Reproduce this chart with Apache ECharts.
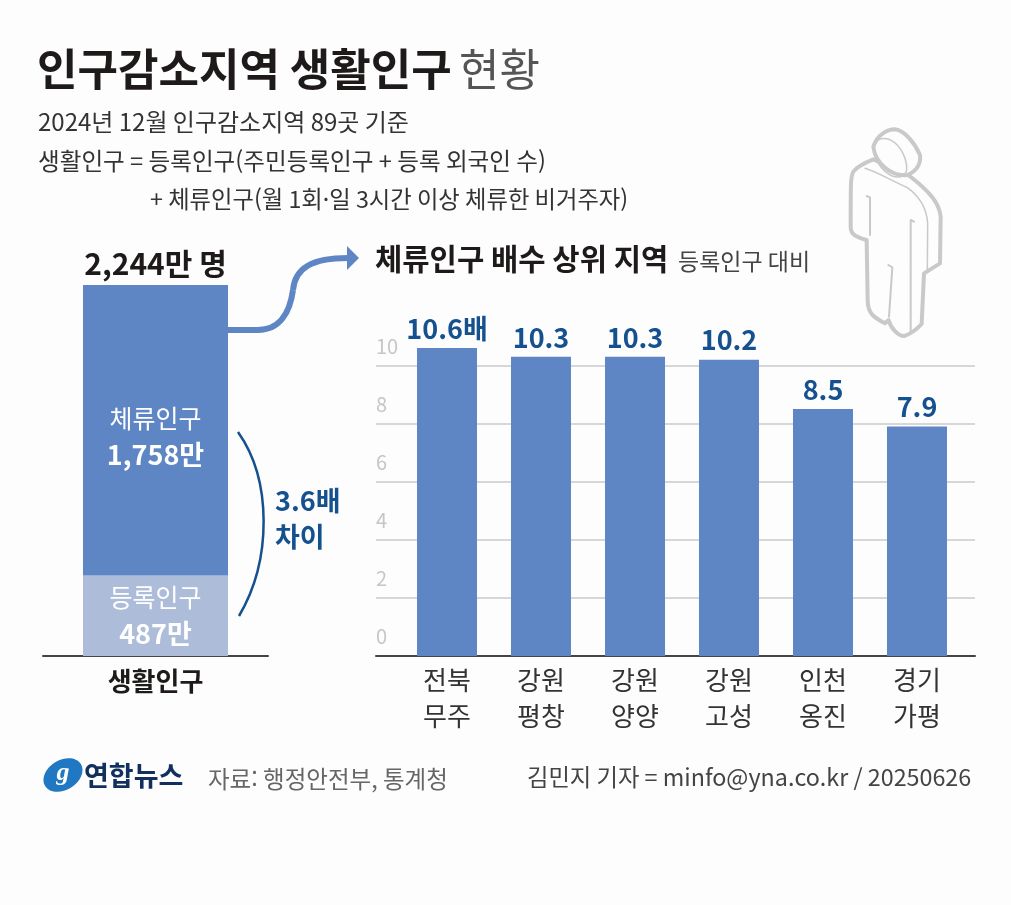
<!DOCTYPE html>
<html lang="ko"><head><meta charset="utf-8">
<script src="https://cdn.jsdelivr.net/npm/echarts@6/dist/echarts.min.js"></script>
<style>html,body{margin:0;padding:0;background:#fdfdfd}#c{width:1011px;height:905px}</style></head>
<body><div id="c"></div>
<script>
const FONT = '"Noto Sans CJK KR","Noto Sans",sans-serif';
const BLUE = '#5f86c4', LIGHT = '#adbcd8', NAVY = '#15508f', INK = '#1e1a19';

const totalCategory = ['생활인구'];
const stayValue = [1758];
const registeredValue = [487];
const totalValue = [2244];
const regions = ['전북\n무주', '강원\n평창', '강원\n양양', '강원\n고성', '인천\n옹진', '경기\n가평'];
const ratios = [10.6, 10.3, 10.3, 10.2, 8.5, 7.9];
const ratioTicks = [0, 10, 2];

const txt = (x, y, text, fontSize, fill, fontWeight, align) => ({
  type: 'text', x, y, z: 10,
  style: { text, fontSize, fill, fontWeight: fontWeight || 'normal', fontFamily: FONT,
           textAlign: align || 'left', textVerticalAlign: 'middle' }
});
const BOX = 'M0 0L0 0M450 690L450 690';
const personParts = [
  ['M160 118C135 128 112 138 100 155C92 170 92 180 92 320C92 345 110 352 140 360L143 545C145 580 160 592 195 610L206 600C212 625 235 648 252 648C272 642 290 628 305 612L312 460L360 430L362 290C358 250 330 215 265 165L160 118Z', 4, '#fdfdfd'],
  ['M160 80C172 45 200 28 225 28C255 32 285 70 300 105C304 135 285 155 262 165C215 170 165 130 160 80Z', 4, '#fdfdfd'],
  ['M162 75C170 55 195 50 215 62C245 80 262 120 260 150C255 175 225 178 200 158C175 138 158 105 162 75Z', 1.5, 'none'],
  ['M135 145C170 155 210 180 262 203C300 230 320 265 323 310L322 450', 1.5, 'none'],
  ['M140 228L150 232L150 345M272 300L282 305M272 300L272 635M205 435L217 442L207 590', 2, 'none']
];

const graphics = [
  txt(37, 69, '인구감소지역 생활인구', 44, INK, 'bold'),
  txt(459, 69, '현황', 44, '#555'),
  txt(38, 122, '2024년 12월 인구감소지역 89곳 기준', 24, '#333'),
  txt(38, 161, '생활인구 = 등록인구(주민등록인구 + 등록 외국인 수)', 23.6, '#333'),
  txt(150, 199, '+ 체류인구(월 1회·일 3시간 이상 체류한 비거주자)', 23.3, '#333'),
  txt(375, 259, '체류인구 배수 상위 지역', 29.7, INK, 'bold'),
  txt(678, 261, '등록인구 대비', 23, '#444'),
  txt(275, 501, '3.6배', 27, NAVY, 'bold'),
  txt(275, 537, '차이', 27, NAVY, 'bold'),
  txt(84, 776, '연합뉴스', 27, '#12305e', 'bold'),
  txt(208, 779, '자료: 행정안전부, 통계청', 23.5, '#666'),
  txt(527, 777, '김민지 기자 = minfo@yna.co.kr / 20250626', 23.3, '#444'),
  { type: 'line', z: 3, shape: { x1: 227, y1: 330, x2: 259, y2: 330 }, style: { stroke: BLUE, lineWidth: 6 } },
  { type: 'bezierCurve', z: 3, shape: { x1: 258, y1: 330, cpx1: 280, cpy1: 330, cpx2: 290, cpy2: 312, x2: 293, y2: 290 },
    style: { fill: 'none', stroke: BLUE, lineWidth: 6 } },
  { type: 'bezierCurve', z: 3, shape: { x1: 293, y1: 290, cpx1: 295, cpy1: 268, cpx2: 312, cpy2: 258, x2: 348, y2: 258 },
    style: { fill: 'none', stroke: BLUE, lineWidth: 6 } },
  { type: 'polygon', z: 3, shape: { points: [[347, 246], [359, 258], [347, 270]] }, style: { fill: BLUE } },
  { type: 'bezierCurve', z: 3, shape: { x1: 238, y1: 432, cpx1: 272, cpy1: 480, cpx2: 272, cpy2: 560, x2: 239, y2: 616 },
    style: { fill: 'none', stroke: NAVY, lineWidth: 2.5 } },
  { type: 'ellipse', z: 5, rotation: 0.55, x: 63, y: 775, shape: { cx: 0, cy: 0, rx: 21, ry: 15 }, style: { fill: '#1f78c1' } },
  { type: 'text', z: 6, x: 63, y: 773, style: { text: 'g', fontSize: 26, fontStyle: 'italic', fontWeight: 'bold', fill: '#fff', fontFamily: 'Liberation Serif', textAlign: 'center', textVerticalAlign: 'middle' } }
];

const option = {
  animation: false,
  backgroundColor: '#fdfdfd',
  textStyle: { fontFamily: FONT },
  graphic: graphics,
  grid: [
    { left: 43, width: 225, top: 285, height: 371 },
    { left: 376, width: 599, top: 365.5, height: 290.5, z: 0 },
    { left: 400, width: 564, top: 307.4, height: 348.6 }
  ],
  xAxis: [
    { gridIndex: 0, type: 'category', data: totalCategory,
      axisTick: { show: false }, axisLine: { lineStyle: { color: '#444', width: 2 } },
      axisLabel: { fontSize: 26, fontWeight: 'bold', color: INK, margin: 12, fontFamily: FONT } },
    { gridIndex: 1, type: 'category', data: [''],
      axisTick: { show: false }, axisLine: { lineStyle: { color: '#444', width: 2 } }, axisLabel: { show: false } },
    { gridIndex: 2, type: 'category', data: regions,
      axisTick: { show: false }, axisLine: { show: false },
      axisLabel: { fontSize: 26, lineHeight: 36, color: '#333', margin: 6, fontFamily: FONT } }
  ],
  yAxis: [
    { gridIndex: 0, type: 'value', min: 0, max: totalValue[0], show: false },
    { gridIndex: 1, type: 'value', min: ratioTicks[0], max: ratioTicks[1], interval: ratioTicks[2],
      axisLine: { show: false }, axisTick: { show: false },
      splitLine: { lineStyle: { color: '#cacaca', width: 1.5 } },
      axisLabel: { inside: true, margin: 0, align: 'left', verticalAlign: 'bottom', lineHeight: 39,
        fontSize: 20, fontFamily: FONT, color: v => (v === 0 ? '#777' : '#c6c6c6') } },
    { gridIndex: 2, type: 'value', min: 0, max: 12, show: false }
  ],
  series: [
    { type: 'bar', name: '등록인구', xAxisIndex: 0, yAxisIndex: 0, stack: 't', barWidth: 145, barGap: '-100%', data: registeredValue,
      itemStyle: { color: LIGHT },
      label: { show: true, position: 'inside', formatter: p => '{a|등록인구}\n{b|' + p.value + '만}',
        rich: { a: { fontSize: 25, color: '#fff', lineHeight: 36, fontFamily: FONT }, b: { fontSize: 27, fontWeight: 'bold', color: '#fff', lineHeight: 36, fontFamily: FONT } } } },
    { type: 'bar', name: '체류인구', xAxisIndex: 0, yAxisIndex: 0, stack: 't', barWidth: 145, barGap: '-100%', data: stayValue,
      itemStyle: { color: BLUE },
      label: { show: true, position: 'inside', offset: [0, 6], formatter: p => '{a|체류인구}\n{b|' + p.value.toLocaleString('en-US') + '만}',
        rich: { a: { fontSize: 25, color: '#fff', lineHeight: 36, fontFamily: FONT }, b: { fontSize: 27, fontWeight: 'bold', color: '#fff', lineHeight: 36, fontFamily: FONT } } } },
    { type: 'bar', name: '합계', xAxisIndex: 0, yAxisIndex: 0, barWidth: 145, barGap: '-100%', data: totalValue, z: 1,
      itemStyle: { color: 'transparent' },
      label: { show: true, position: 'top', distance: 6, fontSize: 30, fontWeight: 'bold', color: INK, fontFamily: FONT,
        formatter: p => p.value.toLocaleString('en-US') + '만 명' } },
    { type: 'bar', name: '배수', xAxisIndex: 2, yAxisIndex: 2, barWidth: 60, data: ratios,
      itemStyle: { color: BLUE },
      label: { show: true, position: 'top', distance: 6, fontSize: 27, fontWeight: 'bold', color: NAVY, fontFamily: FONT,
        formatter: p => p.dataIndex === 0 ? p.value.toFixed(1) + '배' : p.value.toFixed(1) } },
    { type: 'custom', name: '사람', coordinateSystem: 'none', silent: true, z: 1, data: personParts.map((_, i) => [i]),
      renderItem: (params) => {
        const part = personParts[params.dataIndex];
        return { type: 'path',
          shape: { pathData: BOX + part[0], layout: 'cover', x: 820, y: 120, width: 150, height: 230 },
          style: { fill: part[2], stroke: '#c9c9c9', lineWidth: part[1], lineJoin: 'round', lineCap: 'round' } };
      } }
  ]
};
echarts.init(document.getElementById('c')).setOption(option);
</script></body></html>
